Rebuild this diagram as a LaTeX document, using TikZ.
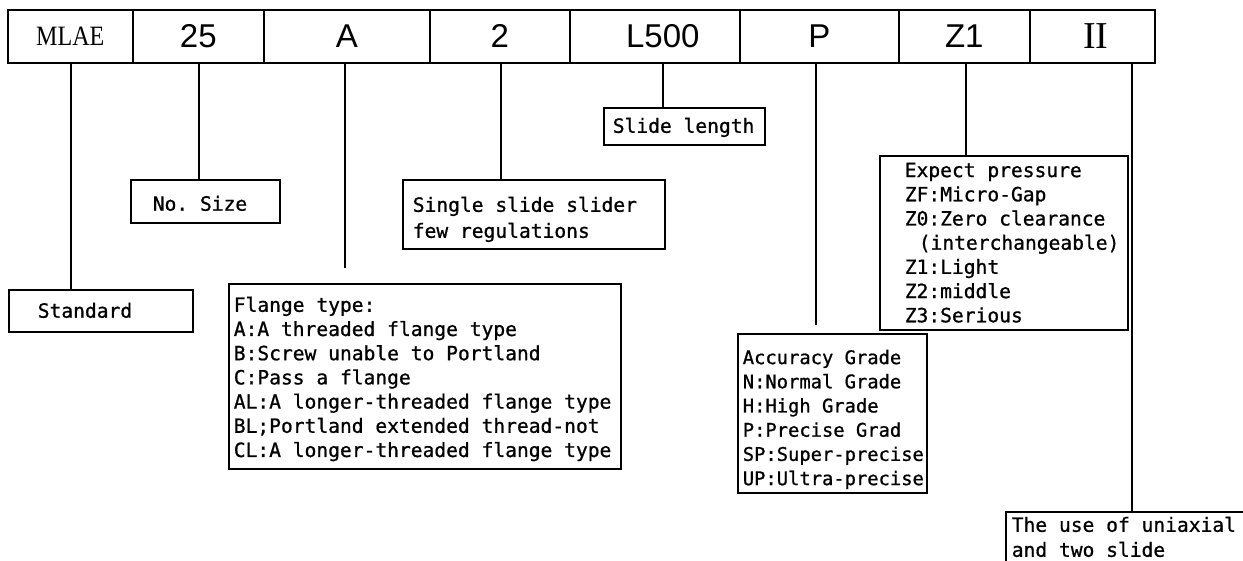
\documentclass[tikz,border=0pt]{standalone}
\usepackage{fontspec}
\usepackage{graphicx}
\setmonofont{DejaVu Sans Mono}[BoldFont={DejaVu Sans Mono}, BoldFeatures={FakeBold=0.9}]
\newfontfamily\hdsans{Liberation Sans}
\newfontfamily\hdserif{Liberation Serif}
\begin{document}
\begin{tikzpicture}[x=1pt,y=-1pt,
  line width=1.6pt,
  cell/.style={draw, minimum width=#1, minimum height=53, anchor=north west, inner sep=0pt},
  sansnum/.style={font=\hdsans\fontsize{33}{36}\selectfont},
  box/.style={draw, inner sep=0pt, anchor=north west},
  lbl/.style={anchor=north west, inner sep=0pt, align=left, font=\ttfamily\bfseries\fontsize{19.6}{24.2}\selectfont},
  lblwide/.style={lbl, font=\ttfamily\bfseries\fontsize{19.6}{26}\selectfont},
  lblnarrow/.style={lbl, font=\ttfamily\bfseries\fontsize{18.8}{24.2}\selectfont},
]
\clip (0,0) rectangle (1243,561);

% header row
\node[cell=125] (h1) at (7,9) {\hdserif\fontsize{28}{30}\selectfont\scalebox{0.86}[1]{MLAE}};
\node[cell=131, sansnum] (h2) at (132,9) {25};
\node[cell=166, sansnum] (h3) at (263,9) {A\hspace{22pt}};
\node[cell=140, sansnum] (h4) at (429,9) {2};
\node[cell=170, sansnum] (h5) at (569,9) {\hspace{16pt}L500};
\node[cell=159, sansnum] (h6) at (739,9) {P\hspace{10pt}};
\node[cell=131, sansnum] (h7) at (898,9) {Z1\hspace{5pt}};
\node[cell=125] (h8) at (1029,9) {\hdserif\fontsize{38}{40}\selectfont\hspace{7pt}II};

% description boxes
\node[box, minimum width=184, minimum height=42,
  label={[lbl, xshift=29pt, yshift=-13pt]north west:Standard}] (std) at (8,289) {};
\node[box, minimum width=149, minimum height=43,
  label={[lbl, xshift=22pt, yshift=-16pt]north west:No. Size}] (size) at (130,179) {};
\node[box, minimum width=392, minimum height=185,
  label={[lbl, xshift=5pt, yshift=-13pt]north west:{Flange type:\\A:A threaded flange type\\B:Screw unable to Portland\\C:Pass a flange\\AL:A longer-threaded flange type\\BL;Portland extended thread-not\\CL:A longer-threaded flange type}}] (flg) at (228,283) {};
\node[box, minimum width=262, minimum height=69,
  label={[lblwide, xshift=10pt, yshift=-17pt]north west:{Single slide slider\\few regulations}}] (sgl) at (402,179) {};
\node[box, minimum width=161, minimum height=37,
  label={[lbl, xshift=9pt, yshift=-10pt]north west:Slide length}] (len) at (603,107) {};
\node[box, minimum width=189, minimum height=159,
  label={[lblnarrow, xshift=5pt, yshift=-16pt]north west:{Accuracy Grade\\N:Normal Grade\\H:High Grade\\P:Precise Grad\\SP:Super-precise\\UP:Ultra-precise}}] (acc) at (737,333) {};
\node[box, minimum width=248, minimum height=174,
  label={[lbl, xshift=25pt, yshift=-7pt]north west:{Expect pressure\\ZF:Micro-Gap\\Z0:Zero clearance\\\hspace*{14pt}(interchangeable)\\Z1:Light\\Z2:middle\\Z3:Serious}}] (prs) at (879,155) {};
\node[box, minimum width=260, minimum height=70,
  label={[lbl, font=\ttfamily\bfseries\fontsize{19.6}{25}\selectfont, xshift=6pt, yshift=-5pt]north west:{The use of uniaxial\\and two slide}}] (use) at (1005,511) {};

% connector x positions and free ends
\coordinate (x1) at (71,0);
\coordinate (x2) at (199,0);
\coordinate (x4) at (501,0);
\coordinate (x5) at (663,0);
\coordinate (x7) at (966,0);
\coordinate (x8) at (1132,0);
\coordinate (e3) at (345,268);
\coordinate (e6) at (816,325);

\draw (h1.south -| x1) -- (std.north -| x1);
\draw (h2.south -| x2) -- (size.north -| x2);
\draw (h3.south -| e3) -- (e3);
\draw (h4.south -| x4) -- (sgl.north -| x4);
\draw (h5.south -| x5) -- (len.north -| x5);
\draw (h6.south -| e6) -- (e6);
\draw (h7.south -| x7) -- (prs.north -| x7);
\draw (h8.south -| x8) -- (use.north -| x8);
\end{tikzpicture}
\end{document}
